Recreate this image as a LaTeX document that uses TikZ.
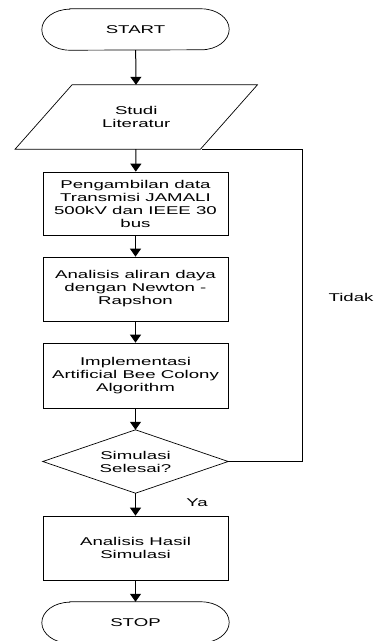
\documentclass[tikz,border=0pt]{standalone}
\usepackage{fontspec}
\setmainfont{Liberation Sans}[FakeStretch=1.65]
\usetikzlibrary{arrows.meta}
\begin{document}
\begin{tikzpicture}[x=1pt,y=1pt,
  shp/.style={draw=none,minimum width=185pt,inner sep=0pt,align=center,
    font=\fontsize{11.3}{13}\selectfont},
  boxnode/.style={shp,draw,line width=0.7pt},
  lbl/.style={font=\fontsize{11.3}{13}\selectfont,inner sep=0pt},
  outl/.style={line width=0.7pt},
  flow/.style={line width=1pt,-{Triangle[width=11pt,length=8pt]}},
  loopline/.style={line width=0.9pt}]
\useasboundingbox (0,0) rectangle (376,-641);
% START
\node[shp,minimum width=187pt,minimum height=41pt] (start) at (135.5,-29.5) {START};
\draw[outl] ([xshift=28pt]start.north west) -- ([xshift=-28pt]start.north east)
  arc[start angle=90,end angle=-90,x radius=28pt,y radius=20.5pt]
  -- ([xshift=28pt]start.south west)
  arc[start angle=270,end angle=90,x radius=28pt,y radius=20.5pt] -- cycle;
% Studi Literatur (parallelogram)
\node[shp,minimum height=64pt] (lit) at (136.25,-117) {Studi\\Literatur};
\coordinate (litbr) at (202,-149);
\draw[outl] ([xshift=-28.5pt]lit.north west) ++(57pt,0) coordinate (litTL)
  (litTL) -- ([xshift=28.5pt]lit.north east) -- ([xshift=-28.5pt]lit.south east)
  -- ([xshift=-28.5pt]lit.south west) -- cycle;
% boxes
\node[boxnode,minimum height=63pt] (b1) at (135.5,-203.5)
  {Pengambilan data\\Transmisi JAMALI\\500kV dan IEEE 30\\bus};
\node[boxnode,minimum height=64pt] (b2) at (135.5,-289)
  {Analisis aliran daya\\dengan Newton -\\Rapshon};
\node[boxnode,minimum height=65pt] (b3) at (135.5,-375.5)
  {Implementasi\\Artificial Bee Colony\\Algorithm};
% diamond
\node[shp,minimum height=63pt] (dec) at (135.5,-461.5) {Simulasi\\Selesai?};
\draw[outl] (dec.north) -- (dec.east) -- (dec.south) -- (dec.west) -- cycle;
\node[boxnode,minimum height=64pt] (b4) at (135.5,-548)
  {Analisis Hasil\\Simulasi};
% STOP
\node[shp,minimum width=187pt,minimum height=41pt] (stop) at (135.5,-622.5) {STOP};
\draw[outl] ([xshift=28pt]stop.north west) -- ([xshift=-28pt]stop.north east)
  arc[start angle=90,end angle=-90,x radius=28pt,y radius=20.5pt]
  -- ([xshift=28pt]stop.south west)
  arc[start angle=270,end angle=90,x radius=28pt,y radius=20.5pt] -- cycle;
% connectors
\draw[flow] (start) -- (lit);
\draw[flow] (lit) -- (b1);
\draw[flow] (b1) -- (b2);
\draw[flow] (b2) -- (b3);
\draw[flow] (b3) -- (dec);
\draw[flow] (dec) -- (b4);
\draw[flow] (b4) -- (stop);
\coordinate (loopx) at (302,-149);
\draw[loopline] (dec.east) -| (loopx) -- (litbr);
% labels
\node[lbl] (tidak) at (351,-297) {Tidak};
\node[lbl] (ya) at (197,-503) {Ya};
\end{tikzpicture}
\end{document}
